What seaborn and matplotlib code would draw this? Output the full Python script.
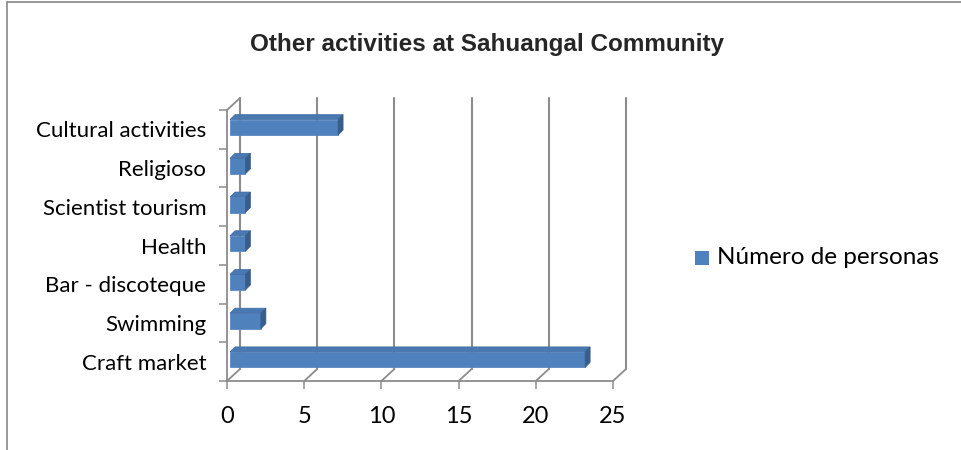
import matplotlib
matplotlib.use("Agg")
import matplotlib.pyplot as plt
import matplotlib.transforms as mtransforms
import seaborn as sns
import numpy as np
import pandas as pd
from matplotlib.patches import Polygon
from matplotlib.lines import Line2D

categories = ["Cultural activities", "Religioso", "Scientist tourism", "Health",
              "Bar - discoteque", "Swimming", "Craft market"]
values = [7, 1, 1, 1, 1, 2, 23]
series_name = "Número de personas"
title = "Other activities at Sahuangal Community"
x_ticks = [0, 5, 10, 15, 20, 25]

sns.set_theme(style="white")
plt.rcParams['font.family'] = ['Lato', 'DejaVu Sans']

DPI = 100
fig = plt.figure(figsize=(9.61, 4.5), dpi=DPI)
ax = fig.add_axes([227/961, (450-381)/450, 386/961, 271/450])

df = pd.DataFrame({"cat": categories, "val": values})
FACE = "#4F81BD"
SIDE = "#385D8A"
TOP = "#4A78B0"
GRID = "#8C8C8C"

sns.barplot(data=df, x="val", y="cat", orient="h", color=FACE, width=0.4,
            saturation=1, ax=ax, zorder=3)
ax.set_xlim(0, 25)
ax.set_ylim(6.5, -0.5)
ax.set_xlabel("")
ax.set_ylabel("")
ax.set_xticks(x_ticks)
ax.set_xticklabels([str(t) for t in x_ticks], fontsize=17, color="black")
ax.set_yticks(range(len(categories)))
ax.set_yticklabels(categories, fontsize=16, color="black")
ax.set_yticks(np.arange(-0.5, len(categories)), minor=True)
ax.tick_params(axis="y", which="major", length=0, pad=15)
ax.tick_params(axis="y", which="minor", length=6, width=1.1, color=GRID, direction="out", left=True)
ax.tick_params(axis="x", which="major", length=6, width=1.1, color=GRID, direction="out", bottom=True, pad=12)
for s in ["top", "right"]:
    ax.spines[s].set_visible(False)
for s in ["left", "bottom"]:
    ax.spines[s].set_color(GRID)
    ax.spines[s].set_linewidth(1.3)
ax.patch.set_alpha(0)
ax.set_zorder(2)

fig.canvas.draw()
inv = fig.transFigure.inverted()

SHIFT = np.array([3, 2])  # bars sit slightly inside the 3D box
bar_tr = ax.transData + mtransforms.ScaledTranslation(SHIFT[0]/DPI, SHIFT[1]/DPI, fig.dpi_scale_trans)

def px(x, y):
    return ax.transData.transform((x, y))

def fig_pts(pts):
    return inv.transform(np.array(pts))

DX, DY = 13, 12  # back wall offset in pixels

# back wall gridlines
for t in x_ticks:
    b = px(t, 6.5) + np.array([DX, DY])
    tp = px(t, -0.5) + np.array([DX, DY])
    p = fig_pts([b, tp])
    fig.add_artist(Line2D(p[:, 0], p[:, 1], color=GRID, lw=1.5, zorder=1))
    f = px(t, 6.5)
    p = fig_pts([f, b])
    fig.add_artist(Line2D(p[:, 0], p[:, 1], color=GRID, lw=1.3, zorder=1))
f = px(0, -0.5)
p = fig_pts([f, f + np.array([DX, DY])])
fig.add_artist(Line2D(p[:, 0], p[:, 1], color=GRID, lw=1.3, zorder=1))

# 3D bar faces
BD = np.array([5, 5])
for patch in ax.patches:
    x0, y0 = patch.get_x(), patch.get_y()
    w, h = patch.get_width(), patch.get_height()
    patch.set_transform(bar_tr)
    c = [px(x0, y0), px(x0 + w, y0), px(x0 + w, y0 + h), px(x0, y0 + h)]
    xs = [pt[0] + SHIFT[0] for pt in c]
    ys = [pt[1] + SHIFT[1] for pt in c]
    L, R, B, T = min(xs), max(xs), min(ys), max(ys)
    top = fig_pts([(L, T), (R, T), (R + BD[0], T + BD[1]), (L + BD[0], T + BD[1])])
    side = fig_pts([(R, B), (R + BD[0], B + BD[1]), (R + BD[0], T + BD[1]), (R, T)])
    fig.add_artist(Polygon(top, closed=True, facecolor=TOP, edgecolor="#3E6BA3", lw=0.5, zorder=4))
    fig.add_artist(Polygon(side, closed=True, facecolor=SIDE, edgecolor=SIDE, lw=0.5, zorder=4))
    patch.set_edgecolor("#5A8AC6")
    patch.set_linewidth(0.6)

fig.suptitle(title, x=487/961, y=1 - 45/450, va="center", fontsize=17.5,
             fontweight="bold", family=["Liberation Sans", "DejaVu Sans"])

# legend
fig.add_artist(Polygon(fig_pts([(695, 450-251), (709, 450-251), (709, 450-265), (695, 450-265)]),
                       closed=True, facecolor=FACE, edgecolor="none", zorder=3))
fig.text(717/961, 1 - 258/450, series_name, fontsize=17.5, va="center", ha="left", color="black")

# outer border
fig.add_artist(Line2D([7/961, 7/961], [0, 1 - 2/450], color="#888888", lw=1.2))
fig.add_artist(Line2D([7/961, 1], [1 - 2/450, 1 - 2/450], color="#888888", lw=1.2))

fig.savefig("out.png", dpi=DPI)
